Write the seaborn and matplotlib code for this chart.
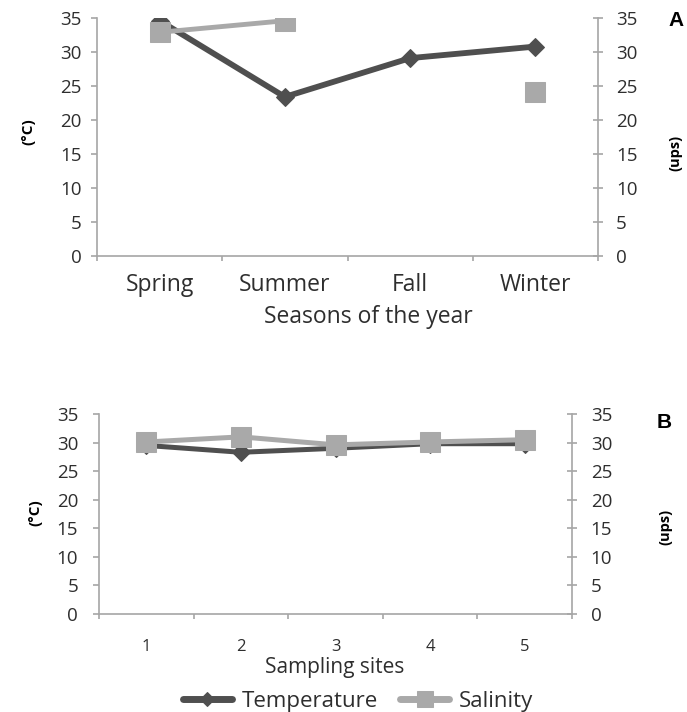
import numpy as np
import pandas as pd
import matplotlib
matplotlib.use("Agg")
import matplotlib.pyplot as plt
import seaborn as sns
from matplotlib.ticker import FixedLocator, NullFormatter, FixedFormatter

# ---------------- data ----------------
seasons = ["Spring", "Summer", "Fall", "Winter"]
temp_season = [34.6, 23.4, 29.1, 30.8]
sal_season = [32.9, 34.6, np.nan, 24.1]

sites = ["1", "2", "3", "4", "5"]
temp_site = [29.5, 28.3, 29.0, 29.8, 29.8]
sal_site = [30.1, 31.0, 29.6, 30.1, 30.5]

y_ticks = [0, 5, 10, 15, 20, 25, 30, 35]

# ---------------- style ----------------
sns.set_theme(style="white")
plt.rcParams["font.family"] = ["Open Sans", "DejaVu Sans"]

TEMP_C = "#4f4f4f"
SAL_C = "#a9a9a9"
AX_C = "#a6a6a6"
TXT_C = "#2e2e2e"

W, H = 687, 712
fig = plt.figure(figsize=(W / 100, H / 100), dpi=100)


def px_rect(l, t, r, b):
    return [l / W, 1 - b / H, (r - l) / W, (b - t) / H]


def make_df(vals_t, vals_s, cats):
    df = pd.DataFrame({"pos": np.arange(len(cats)), "temp": vals_t, "sal": vals_s})
    df["seg"] = np.cumsum(pd.isna(df["sal"]).astype(int))
    return df


def draw_panel(rect, cats, vals_t, vals_s, xfs, yfs, xpad, lpad, rpad,
               lw_t, lw_s, ms_d, ms_s):
    df = make_df(vals_t, vals_s, cats)
    ax = fig.add_axes(rect)
    ax2 = ax.twinx()
    sns.lineplot(data=df, x="pos", y="temp", ax=ax, color=TEMP_C, lw=lw_t,
                 marker="D", markersize=ms_d, markeredgecolor=TEMP_C,
                 estimator=None, sort=False, label="Temperature")
    sns.lineplot(data=df.dropna(), x="pos", y="sal", units="seg", ax=ax2,
                 color=SAL_C, lw=lw_s, marker="s", markersize=ms_s,
                 markeredgecolor=SAL_C, estimator=None, sort=False,
                 label="Salinity")
    n = len(cats)
    for a in (ax, ax2):
        a.set_xlim(-0.5, n - 0.5)
        a.set_ylim(0, 35)
        a.set_xlabel("")
        a.set_ylabel("")
        a.set_yticks(y_ticks)
        for s in a.spines.values():
            s.set_color(AX_C)
            s.set_linewidth(1.2)
        a.spines["top"].set_visible(False)
        if a.get_legend():
            a.get_legend().remove()
    ax.spines["right"].set_visible(False)
    ax2.spines["left"].set_visible(False)
    ax2.spines["bottom"].set_visible(False)
    # x ticks: boundaries as marks, centers as labels
    ax.xaxis.set_major_locator(FixedLocator(np.arange(n + 1) - 0.5))
    ax.xaxis.set_major_formatter(NullFormatter())
    ax.xaxis.set_minor_locator(FixedLocator(np.arange(n)))
    ax.xaxis.set_minor_formatter(FixedFormatter(cats))
    ax.tick_params(axis="x", which="major", bottom=True, length=3.5, width=1.2,
                   color=AX_C, direction="out")
    ax.tick_params(axis="x", which="minor", bottom=True, length=0,
                   labelsize=xfs, labelcolor=TXT_C, pad=xpad)
    ax.tick_params(axis="y", left=True, length=4.5, width=1.2, color=AX_C,
                   direction="out", labelsize=yfs, labelcolor=TXT_C, pad=lpad)
    ax2.tick_params(axis="y", right=True, length=7, width=1.2, color=AX_C,
                    direction="inout", labelsize=yfs, labelcolor=TXT_C, pad=rpad)
    return ax, ax2


axA, axA2 = draw_panel(px_rect(97, 18, 598, 256), seasons, temp_season,
                       sal_season, 16.5, 13.5, 12.5, 6.5, 9.5,
                       4.2, 3.5, 9.5, 15)
axB, axB2 = draw_panel(px_rect(99, 414, 572, 614), sites, temp_site,
                       sal_site, 12, 13.5, 18, 10.5, 10,
                       3.6, 3.6, 9.5, 14.5)

# labels
BOLD = dict(fontweight="bold", color="black")
fig.text(28 / W, 1 - 132 / H, "(°C)", rotation=90, ha="center", va="center",
         fontsize=11, **BOLD)
fig.text(675 / W, 1 - 153 / H, "(ups)", rotation=90, ha="center", va="center",
         fontsize=10.5, **BOLD)
fig.text(368 / W, 1 - 317 / H, "Seasons of the year", ha="center", va="center",
         fontsize=16.5, color=TXT_C)
fig.text(676 / W, 1 - 20 / H, "A", ha="center", va="center", fontsize=15,
         family=["Liberation Sans", "DejaVu Sans"], **BOLD)

fig.text(35 / W, 1 - 513 / H, "(°C)", rotation=90, ha="center", va="center",
         fontsize=11, **BOLD)
fig.text(665 / W, 1 - 527 / H, "(ups)", rotation=90, ha="center", va="center",
         fontsize=10.5, **BOLD)
fig.text(335 / W, 1 - 667.5 / H, "Sampling sites", ha="center", va="center",
         fontsize=15, color=TXT_C)
fig.text(664 / W, 1 - 423 / H, "B", ha="center", va="center", fontsize=15,
         family=["Liberation Sans", "DejaVu Sans"], **BOLD)

# legend
h1, l1 = axB.get_legend_handles_labels()
h2, l2 = axB2.get_legend_handles_labels()
leg = fig.legend(h1[:1] + h2[:1], l1[:1] + l2[:1], loc="center",
                 bbox_to_anchor=(358 / W, 1 - 701 / H), ncol=2, frameon=False,
                 fontsize=16, handlelength=2.2, columnspacing=1.0,
                 handletextpad=0.45, markerscale=0.75)
for t in leg.get_texts():
    t.set_color(TXT_C)
for hl in leg.legend_handles:
    hl.set_linewidth(5)

fig.savefig("out.png", dpi=100, facecolor="white")
